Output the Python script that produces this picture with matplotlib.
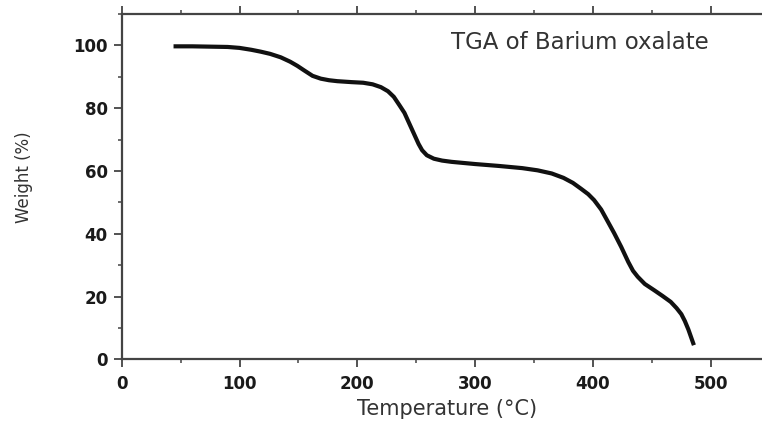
import matplotlib
matplotlib.use("Agg")
import matplotlib.pyplot as plt
from matplotlib.ticker import MultipleLocator

# TGA curve of barium oxalate
temperature = [44, 60, 75, 90, 100, 110, 118, 126, 135, 143, 149, 155, 162, 169,
               176, 183, 195, 205, 213, 220, 226, 231, 236, 240, 244, 248, 252,
               255, 259, 265, 272, 280, 300, 320, 340, 353, 365, 375, 383, 390,
               396, 401, 407, 412, 418, 424, 430, 434, 438, 444, 452, 459, 466,
               471, 475, 478, 481, 485.7]
weight = [99.7, 99.7, 99.6, 99.5, 99.2, 98.6, 98.0, 97.3, 96.2, 94.8, 93.5, 92.0,
          90.3, 89.4, 88.9, 88.6, 88.3, 88.1, 87.6, 86.7, 85.4, 83.6, 80.8, 78.5,
          75.2, 71.9, 68.6, 66.6, 65.0, 63.9, 63.3, 62.9, 62.2, 61.6, 60.9, 60.2,
          59.2, 57.8, 56.2, 54.3, 52.6, 50.7, 47.7, 44.3, 40.2, 35.8, 31.0, 28.2,
          26.3, 24.0, 22.0, 20.2, 18.3, 16.3, 14.4, 12.2, 9.5, 4.5]

x_ticks = [0, 100, 200, 300, 400, 500]
y_ticks = [0, 20, 40, 60, 80, 100]
title_text = "TGA of Barium oxalate"

plt.rcParams['font.family'] = ['DejaVu Sans']

fig = plt.figure(figsize=(7.62, 4.23), dpi=100)
ax = fig.add_axes([121.7 / 762, 1 - 359.3 / 423, 1 - 121.7 / 762, (359.3 - 14) / 423])

ax.plot(temperature, weight, color="#111111", lw=3.0, solid_joinstyle="round",
        solid_capstyle="butt")

ax.set_xlim(0, 543.5)
ax.set_ylim(0, 110)
ax.set_xticks(x_ticks)
ax.set_yticks(y_ticks)
ax.xaxis.set_minor_locator(MultipleLocator(50))
ax.yaxis.set_minor_locator(MultipleLocator(10))

spine_col = "#444444"
for side in ("left", "bottom", "top"):
    ax.spines[side].set_color(spine_col)
    ax.spines[side].set_linewidth(1.6)
ax.spines["right"].set_visible(False)

ax.tick_params(axis="both", which="major", direction="out", length=6, width=1.3,
               color=spine_col, labelsize=12, labelcolor="#1a1a1a")
ax.tick_params(axis="both", which="minor", direction="out", length=3, width=1.1,
               color=spine_col)
ax.tick_params(axis="x", which="both", top=True, labeltop=False)
ax.tick_params(axis="x", which="major", pad=5)
ax.tick_params(axis="y", which="major", pad=4)
for lab in ax.get_xticklabels() + ax.get_yticklabels():
    lab.set_fontweight("bold")

ax.set_xlabel("Temperature (°C)", fontsize=15, color="#333333")
ax.set_ylabel("Weight (%)", fontsize=12, color="#333333")
ax.xaxis.set_label_coords(0.508, -0.114)
ax.yaxis.set_label_coords(-0.1385, 0.528)

ax.text(498, 98.7, title_text, ha="right", va="baseline", fontsize=16.5,
        color="#333333")

fig.savefig("out.png", dpi=100)
